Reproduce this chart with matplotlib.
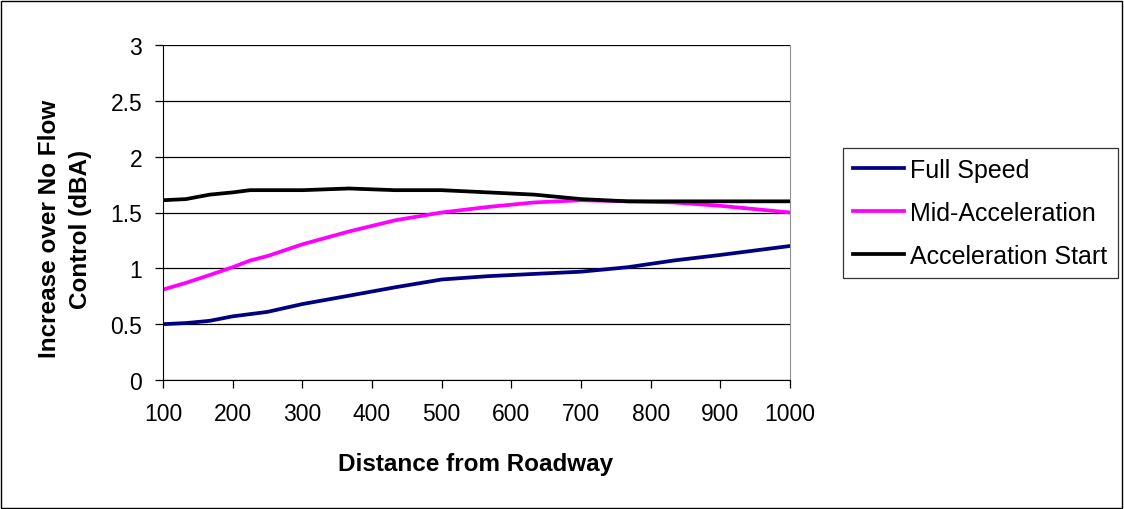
import matplotlib
matplotlib.use("Agg")
import matplotlib.pyplot as plt
from matplotlib.patches import Rectangle

plt.rcParams['font.family'] = ['Liberation Sans', 'DejaVu Sans']

distance = [100, 133, 167, 200, 225, 250, 300, 367, 433, 500, 567, 633, 700, 767, 833, 900, 1000]
full_speed = [0.50, 0.51, 0.53, 0.57, 0.59, 0.61, 0.68, 0.755, 0.83, 0.90, 0.93, 0.95, 0.97, 1.01, 1.07, 1.12, 1.20]
mid_accel = [0.81, 0.87, 0.94, 1.01, 1.07, 1.11, 1.215, 1.33, 1.43, 1.50, 1.55, 1.59, 1.61, 1.60, 1.59, 1.56, 1.50]
accel_start = [1.61, 1.62, 1.66, 1.68, 1.70, 1.70, 1.70, 1.715, 1.70, 1.70, 1.68, 1.66, 1.62, 1.60, 1.60, 1.60, 1.60]

series = [("Full Speed", full_speed, "#000080"),
          ("Mid-Acceleration", mid_accel, "#FF00FF"),
          ("Acceleration Start", accel_start, "#000000")]

W, H = 1124, 510
fig = plt.figure(figsize=(W / 100, H / 100), dpi=100)
ax = fig.add_axes([163 / W, 1 - 381 / H, (790 - 163) / W, (381 - 46) / H])

for name, vals, col in series:
    ax.plot(distance, vals, color=col, lw=2.7, label=name, solid_joinstyle="round")

ax.set_xlim(100, 1000)
ax.set_ylim(0, 3)
ax.set_xticks(range(100, 1001, 100))
ax.set_yticks([0, 0.5, 1, 1.5, 2, 2.5, 3])
ax.set_yticklabels(["0", "0.5", "1", "1.5", "2", "2.5", "3"])
ax.yaxis.grid(True, color="black", lw=0.9)
ax.set_axisbelow(True)
ax.spines["top"].set_visible(False)
ax.spines["right"].set_color("#909090")
ax.spines["left"].set_color("black")
ax.spines["bottom"].set_color("black")
ax.tick_params(axis="both", labelsize=16.5, direction="out", length=6, width=0.9)
ax.tick_params(axis="x", pad=10)
ax.tick_params(axis="y", pad=9)

fig.text(476 / W, 1 - 465 / H, "Distance from Roadway", fontsize=17.5, fontweight="bold",
         ha="center", va="center")
fig.text(65 / W, 1 - 229 / H, "Increase over No Flow\nControl (dBA)", fontsize=17.5,
         fontweight="bold", ha="center", va="center", rotation=90, multialignment="center",
         linespacing=1.4)

leg = fig.legend(loc="upper left", bbox_to_anchor=(843 / W, 1 - 149 / H), fontsize=18,
                 frameon=True, fancybox=False, edgecolor="black", handlelength=2.05,
                 handletextpad=0.25, borderpad=0.4, labelspacing=0.75, borderaxespad=0)
leg.get_frame().set_linewidth(0.9)
for line in leg.get_lines():
    line.set_linewidth(2.7)

fig.patches.append(Rectangle((1 / W, 1 / H), (W - 3) / W, (H - 3) / H, transform=fig.transFigure,
                             fill=False, edgecolor="black", lw=1.0))

fig.savefig("out.png", dpi=100)
